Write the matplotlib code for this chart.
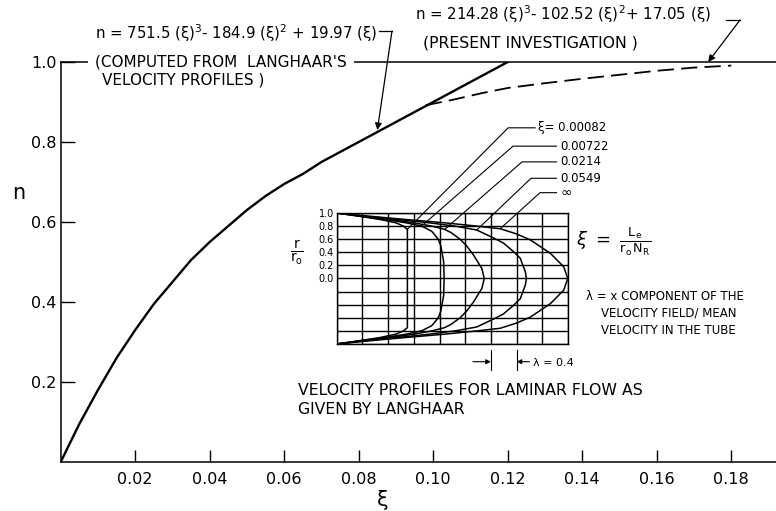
import numpy as np
import matplotlib.pyplot as plt
from matplotlib.lines import Line2D

plt.rcParams['font.family'] = ['DejaVu Sans']
plt.rcParams['mathtext.fontset'] = 'dejavusans'

# --- datos ---
# curva de Langhaar (solida)
xi_solid = [0, 0.005, 0.01, 0.015, 0.02, 0.025, 0.03, 0.035, 0.04, 0.045, 0.05, 0.055,
            0.06, 0.065, 0.07, 0.075, 0.08, 0.085, 0.09, 0.095, 0.10, 0.105, 0.11, 0.115, 0.12]
n_solid = [0, 0.095, 0.18, 0.26, 0.33, 0.395, 0.45, 0.505, 0.55, 0.59, 0.63, 0.665,
           0.695, 0.72, 0.75, 0.775, 0.80, 0.825, 0.85, 0.875, 0.90, 0.925, 0.95, 0.975, 1.0]
# investigacion presente (discontinua)
xi_dash = [0.098, 0.105, 0.113, 0.12, 0.13, 0.14, 0.15, 0.16, 0.17, 0.18]
n_dash = [0.892, 0.905, 0.922, 0.935, 0.947, 0.958, 0.968, 0.978, 0.986, 0.991]

x_ticks = [0.02, 0.04, 0.06, 0.08, 0.10, 0.12, 0.14, 0.16, 0.18]
x_ticklabels = ['0.02', '0.04', '0.06', '0.08', '0.10', '0.12', '0.14', '0.16', '0.18']
y_ticks = [0.2, 0.4, 0.6, 0.8, 1.0]
y_ticklabels = ['0.2', '0.4', '0.6', '0.8', '1.0']

# perfiles de velocidad (mitad superior: r/r0 de 1 a 0, lambda en divisiones de la rejilla)
profile_labels = ['0.00082', '0.00722', '0.0214', '0.0549', '\u221e']
r_p1 = [1.0, 0.95, 0.9, 0.85, 0.8, 0.75, 0.7, 0.4, 0.0]
lam_p1 = [0.0, 0.9, 1.7, 2.3, 2.6, 2.75, 2.75, 2.75, 2.75]
r_p2 = [1.0, 0.95, 0.9, 0.85, 0.8, 0.72, 0.6, 0.5, 0.26, 0.0]
lam_p2 = [0.0, 0.9, 1.9, 2.7, 3.3, 3.7, 3.95, 4.05, 4.16, 4.18]
r_p3 = [1.0, 0.95, 0.9, 0.85, 0.8, 0.75, 0.7, 0.6, 0.5, 0.36, 0.15, 0.0]
lam_p3 = [0.0, 1.0, 2.1, 3.0, 3.7, 4.2, 4.45, 4.8, 5.05, 5.32, 5.65, 5.74]
r_p4 = [1.0, 0.95, 0.9, 0.85, 0.8, 0.74, 0.6, 0.54, 0.42, 0.31, 0.1, 0.0]
lam_p4 = [0.0, 1.1, 2.4, 3.6, 4.6, 5.45, 6.2, 6.49, 6.85, 7.14, 7.34, 7.38]
r_p5 = [1.0, 0.95, 0.9, 0.85, 0.8, 0.76, 0.68, 0.59, 0.385, 0.18, 0.0]
lam_p5 = [0.0, 1.3, 2.7, 4.2, 5.45, 6.36, 7.0, 7.53, 8.31, 8.83, 8.99]
profiles = [(r_p1, lam_p1), (r_p2, lam_p2), (r_p3, lam_p3), (r_p4, lam_p4), (r_p5, lam_p5)]

# puntos de las flechas sobre cada perfil y codos de las lineas guia
tip_lam = [2.75, 3.3, 4.2, 5.45, 6.36]
tip_r = [0.75, 0.8, 0.75, 0.74, 0.76]
elbow_lam = [6.67, 6.86, 7.21, 7.56, 7.91]
elbow_r = [2.30, 2.02, 1.78, 1.53, 1.31]

# --- figura ---
fig = plt.figure(figsize=(7.76, 5.11), dpi=100)
ax = fig.add_axes([0.0782, 0.0959, 0.9218, 0.7828])

ax.plot(xi_solid, n_solid, color='black', lw=1.7)
ax.plot(xi_dash, n_dash, color='black', lw=1.3, dashes=(9, 4))

ax.set_xlim(0, 0.192)
ax.set_ylim(0, 1.0)
ax.set_xticks(x_ticks)
ax.set_xticklabels(x_ticklabels, fontsize=11.5)
ax.set_yticks(y_ticks)
ax.set_yticklabels(y_ticklabels, fontsize=11.5)
ax.tick_params(axis='x', direction='in', length=9, width=1, pad=7)
ax.tick_params(axis='y', direction='in', length=10, width=1, pad=3)
ax.spines['right'].set_visible(False)
for s in ['left', 'bottom', 'top']:
    ax.spines[s].set_linewidth(1.1)

fig.text(0.0155, 0.6223, 'n', fontsize=15, ha='left', va='center')
fig.text(0.4936, 0.0215, '\u03be', fontsize=15, ha='center', va='center')

arrow_kw = dict(arrowstyle='-|>', color='black', lw=0.9, mutation_scale=10, shrinkA=0, shrinkB=0)

# anotaciones superiores
fig.text(0.1224, 0.9354, 'n = 751.5 (\u03be)$^3$- 184.9 (\u03be)$^2$ + 19.97 (\u03be)',
         fontsize=10.8, ha='left', va='center')
fig.text(0.1224, 0.8787, "(COMPUTED FROM  LANGHAAR'S", fontsize=11, ha='left', va='center',
         bbox=dict(fc='white', ec='none', pad=5))
fig.text(0.1314, 0.8434, 'VELOCITY PROFILES )', fontsize=11, ha='left', va='center')
fig.add_artist(Line2D([379 / 776, 392 / 776], [1 - 31 / 511, 1 - 31 / 511], color='black', lw=0.9))
ax.annotate('', xy=(0.085, 0.83), xytext=(392 / 776, 1 - 31 / 511), textcoords='figure fraction',
            arrowprops=arrow_kw, annotation_clip=False)

fig.text(0.5348, 0.9726, 'n = 214.28 (\u03be)$^3$- 102.52 (\u03be)$^2$+ 17.05 (\u03be)',
         fontsize=10.8, ha='left', va='center')
fig.text(0.5451, 0.9159, '(PRESENT INVESTIGATION )', fontsize=11.3, ha='left', va='center')
fig.add_artist(Line2D([726 / 776, 740 / 776], [1 - 20 / 511, 1 - 20 / 511], color='black', lw=0.9))
ax.annotate('', xy=(0.1738, 1.0), xytext=(740 / 776, 1 - 20 / 511), textcoords='figure fraction',
            arrowprops=arrow_kw, annotation_clip=False)

# --- recuadro con perfiles de Langhaar ---
axi = fig.add_axes([0.4339, 0.3268, 0.2981, 0.2564])
for r_top, lam_top in profiles:
    r_top = np.array(r_top)
    lam_top = np.array(lam_top)
    r_full = np.concatenate([r_top, -r_top[::-1][1:]])
    lam_full = np.concatenate([lam_top, lam_top[::-1][1:]])
    axi.plot(lam_full, r_full, color='black', lw=1.1)

axi.set_xlim(0, 9)
axi.set_ylim(-1, 1)
axi.set_xticks(range(10))
axi.set_yticks(np.linspace(-1, 1, 11))
axi.set_xticklabels([])
axi.set_yticklabels(['', '', '', '', '', '0.0', '0.2', '0.4', '0.6', '0.8', '1.0'], fontsize=7)
axi.tick_params(length=0, pad=2)
axi.grid(True, color='black', lw=1)
for s in axi.spines.values():
    s.set_linewidth(1)

for i, lab in enumerate(profile_labels):
    axi.plot([tip_lam[i], elbow_lam[i], 8.55 if i else 7.72], [tip_r[i], elbow_r[i], elbow_r[i]],
             color='black', lw=0.8, clip_on=False)
    if i == 0:
        axi.text(7.84, elbow_r[i], '\u03be= ' + lab, fontsize=8.5, ha='left', va='center')
    else:
        axi.text(8.69, elbow_r[i], lab, fontsize=8.5 if i < 4 else 10, ha='left', va='center')

axi.text(-1.55, 0.4, r'$\frac{\mathrm{r}}{\mathrm{r_o}}$', fontsize=14, ha='center', va='center')
axi.text(9.3, 0.55, r'$\xi\ =\ \frac{\mathrm{L_e}}{\mathrm{r_o\,N_R}}$', fontsize=13, ha='left', va='center')
axi.text(9.7, -0.28, '\u03bb = x COMPONENT OF THE', fontsize=8.5, ha='left', va='center')
axi.text(10.3, -0.656, 'VELOCITY FIELD/ MEAN\nVELOCITY IN THE TUBE', fontsize=8.5, ha='left',
         va='center', linespacing=1.45)

# marca de lambda = 0.4
small_arrow = dict(arrowstyle='-|>', color='black', lw=0.8, mutation_scale=7, shrinkA=0, shrinkB=0)
axi.plot([6, 6], [-1.09, -1.40], color='black', lw=0.8, clip_on=False)
axi.plot([7, 7], [-1.09, -1.40], color='black', lw=0.8, clip_on=False)
axi.annotate('', xy=(6, -1.27), xytext=(5.3, -1.27), arrowprops=small_arrow, annotation_clip=False)
axi.annotate('', xy=(7, -1.27), xytext=(7.5, -1.27), arrowprops=small_arrow, annotation_clip=False)
axi.text(7.64, -1.29, '\u03bb = 0.4', fontsize=8, ha='left', va='center')

fig.text(298 / 776, 1 - 400 / 511, 'VELOCITY PROFILES FOR LAMINAR FLOW AS\nGIVEN BY LANGHAAR',
         fontsize=11.3, ha='left', va='center', linespacing=1.35)

plt.savefig('out.png', dpi=100)
